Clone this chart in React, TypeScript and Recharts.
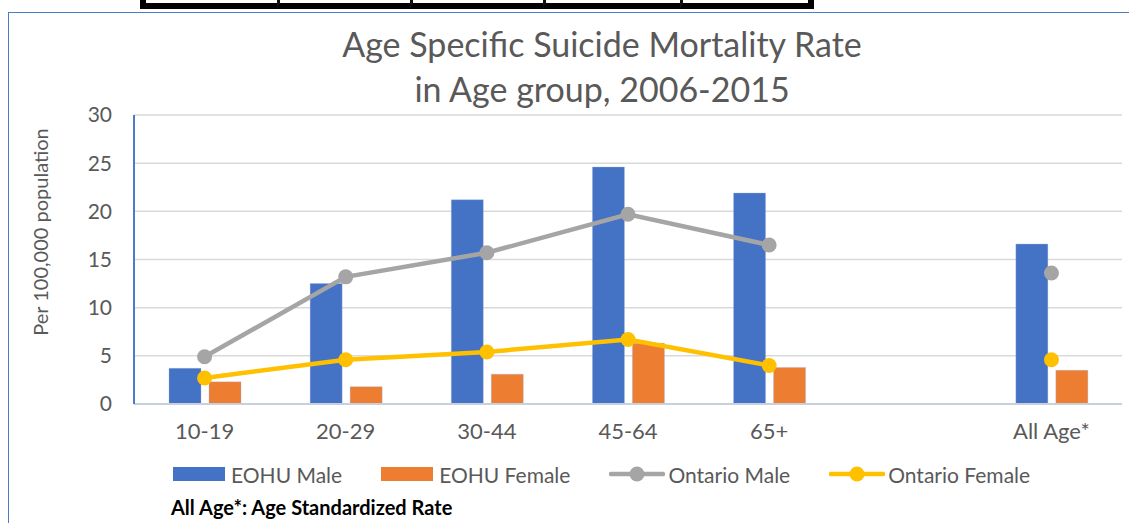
import { Bar, CartesianGrid, ComposedChart, Line, XAxis, YAxis } from 'recharts';

const categories = ['10-19', '20-29', '30-44', '45-64', '65+', '', 'All Age*'];
const eohuMale = [3.7, 12.5, 21.2, 24.6, 21.9, null, 16.6];
const eohuFemale = [2.3, 1.8, 3.1, 6.3, 3.8, null, 3.5];
const ontarioMale = [4.9, 13.2, 15.7, 19.7, 16.5, null, 13.6];
const ontarioFemale = [2.7, 4.6, 5.4, 6.7, 4.0, null, 4.6];
const yTicks = [0, 5, 10, 15, 20, 25, 30];

const titleLines = ['Age Specific Suicide Mortality Rate', 'in Age group, 2006-2015'];
const yLabel = 'Per 100,000 population';
const footnote = 'All Age*: Age Standardized Rate';

const series = [
  { key: 'eohuMale', name: 'EOHU Male', color: '#4472C4', kind: 'bar' },
  { key: 'eohuFemale', name: 'EOHU Female', color: '#ED7D31', kind: 'bar' },
  { key: 'ontarioMale', name: 'Ontario Male', color: '#A5A5A5', kind: 'line' },
  { key: 'ontarioFemale', name: 'Ontario Female', color: '#FFC000', kind: 'line' },
];

const rows = categories.map((category, i) => ({
  category,
  eohuMale: eohuMale[i],
  eohuFemale: eohuFemale[i],
  ontarioMale: ontarioMale[i],
  ontarioFemale: ontarioFemale[i],
}));

const font = 'Lato, "Open Sans", sans-serif';
const textColor = '#595959';
const frameBlue = '#4A7CC9';

// leftover table borders peeking in above the chart
const tableCells = [137, 133, 133, 137, 134];

const LegendRow = () => (
  <div
    style={{
      position: 'absolute',
      left: 173,
      top: 460,
      height: 28,
      display: 'flex',
      alignItems: 'center',
      gap: 39,
      fontFamily: font,
      fontSize: 21,
      color: textColor,
    }}
  >
    {series.map((s) => (
      <div key={s.key} style={{ display: 'flex', alignItems: 'center' }}>
        {s.kind === 'bar' ? (
          <span style={{ width: 52, height: 14, background: s.color, marginRight: 6 }} />
        ) : (
          <svg width={56} height={16} style={{ marginRight: 3 }}>
            <line x1={2} y1={8} x2={54} y2={8} stroke={s.color} strokeWidth={4.5} strokeLinecap="round" />
            <circle cx={28} cy={8} r={7.5} fill={s.color} />
          </svg>
        )}
        <span>{s.name}</span>
      </div>
    ))}
  </div>
);

export default function App() {
  return (
    <div style={{ position: 'fixed', left: 0, top: 0, width: 1129, height: 523, background: '#fff', overflow: 'hidden' }}>
      <div style={{ position: 'absolute', left: 140, top: -10, display: 'flex' }}>
        {tableCells.map((w, i) => (
          <div
            key={i}
            style={{
              width: w,
              height: 19,
              boxSizing: 'border-box',
              borderBottom: '6px solid #000',
              borderLeft: i === 0 ? '6px solid #000' : '3px solid #111',
              borderRight: i === tableCells.length - 1 ? '6px solid #000' : 'none',
            }}
          />
        ))}
      </div>
      <div
        style={{
          position: 'absolute',
          left: 8,
          top: 12,
          width: 1140,
          height: 540,
          border: `1.5px solid ${frameBlue}`,
        }}
      />
      <div
        style={{
          position: 'absolute',
          left: 302,
          top: 21,
          width: 600,
          textAlign: 'center',
          fontFamily: font,
          fontSize: 34,
          lineHeight: '45px',
          color: textColor,
        }}
      >
        {titleLines.map((t) => (
          <div key={t}>{t}</div>
        ))}
      </div>
      <div
        style={{
          position: 'absolute',
          left: 40,
          top: 232,
          transform: 'translate(-50%, -50%) rotate(-90deg)',
          whiteSpace: 'nowrap',
          fontFamily: font,
          fontSize: 20,
          color: textColor,
        }}
      >
        {yLabel}
      </div>
      <div style={{ position: 'absolute', left: 0, top: 0 }}>
        <ComposedChart
          width={1129}
          height={523}
          data={rows}
          margin={{ top: 115, right: 7, bottom: 79, left: 74 }}
          barGap={8}
          barSize={32}
        >
          <CartesianGrid vertical={false} stroke="#D9D9D9" strokeWidth={1.5} />
          <XAxis
            dataKey="category"
            axisLine={{ stroke: '#C8D0DC', strokeWidth: 2 }}
            tickLine={false}
            tickSize={0}
            tickMargin={19}
            height={40}
            interval={0}
            tick={{ fill: textColor, fontSize: 22, fontFamily: font }}
          />
          <XAxis xAxisId="top" orientation="top" dataKey="category" height={0} tick={false} tickLine={false} axisLine={{ stroke: frameBlue, strokeWidth: 2 }} />
          <YAxis
            domain={[0, 30]}
            ticks={yTicks}
            width={60}
            axisLine={{ stroke: frameBlue, strokeWidth: 2 }}
            tickLine={false}
            tickSize={0}
            tickMargin={22}
            tick={{ fill: textColor, fontSize: 21, fontFamily: font }}
          />
          <YAxis yAxisId="right" orientation="right" domain={[0, 30]} width={0} tick={false} tickLine={false} axisLine={{ stroke: frameBlue, strokeWidth: 2 }} />
          {series
            .filter((s) => s.kind === 'bar')
            .map((s) => (
              <Bar key={s.key} dataKey={s.key} name={s.name} fill={s.color} stroke="#9DB3E0" strokeOpacity={0.35} isAnimationActive={false} />
            ))}
          {series
            .filter((s) => s.kind === 'line')
            .map((s) => (
              <Line
                key={s.key}
                type="linear"
                dataKey={s.key}
                name={s.name}
                stroke={s.color}
                strokeWidth={4.5}
                dot={{ r: 7.5, fill: s.color, stroke: s.color, strokeWidth: 0 }}
                connectNulls={false}
                isAnimationActive={false}
              />
            ))}
        </ComposedChart>
      </div>
      <LegendRow />
      <div
        style={{
          position: 'absolute',
          left: 171,
          top: 495,
          fontFamily: font,
          fontSize: 20,
          fontWeight: 700,
          color: '#000',
        }}
      >
        {footnote}
      </div>
    </div>
  );
}
